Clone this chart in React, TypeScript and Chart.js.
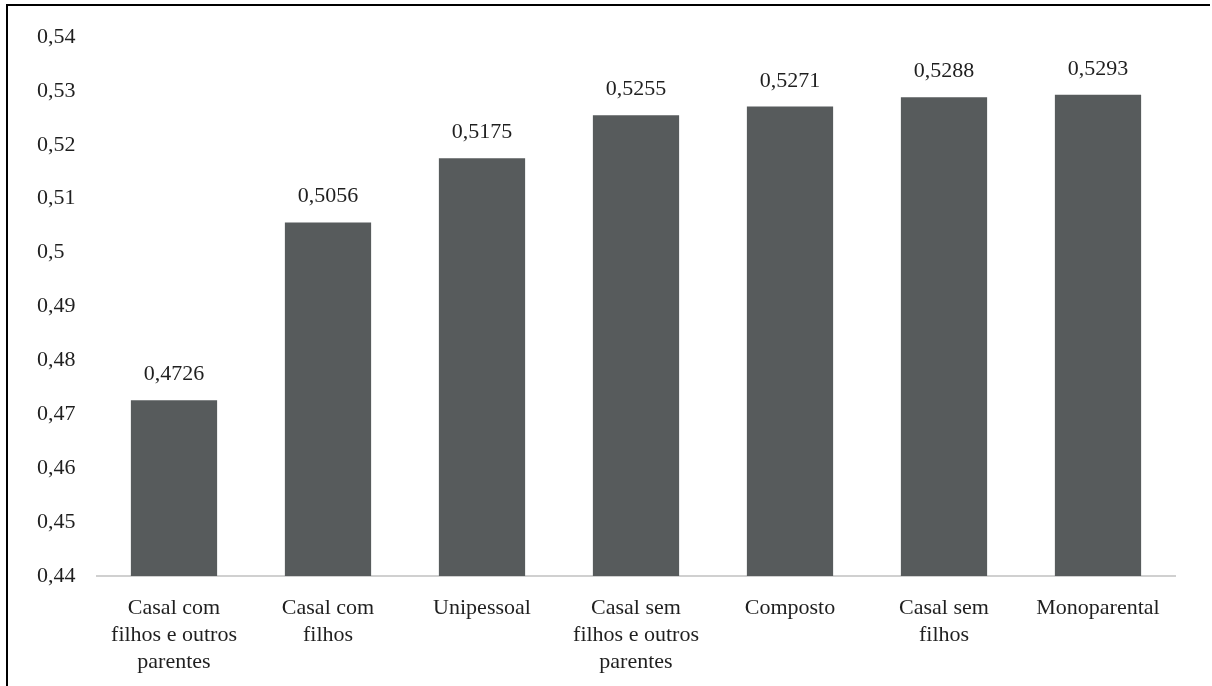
import React, { useEffect, useRef } from "react";
import { Chart, registerables } from "chart.js";

Chart.register(...registerables);

const categories: (string | string[])[] = [
  ["Casal com", "filhos e outros", "parentes"],
  ["Casal com", "filhos"],
  "Unipessoal",
  ["Casal sem", "filhos e outros", "parentes"],
  "Composto",
  ["Casal sem", "filhos"],
  "Monoparental",
];
const values: number[] = [0.4726, 0.5056, 0.5175, 0.5255, 0.5271, 0.5288, 0.5293];
const yMin = 0.44;
const yMax = 0.54;
const yStep = 0.01;

const FONT = "'Liberation Serif', 'Times New Roman', serif";
const TEXT = "#1f1f1f";

const fmtTick = (v: number) => {
  let s = v.toFixed(2);
  s = s.replace(/0+$/, "").replace(/\.$/, "");
  return s.replace(".", ",");
};

const dataLabels = {
  id: "dataLabels",
  afterDatasetsDraw(chart: any) {
    const ctx = chart.ctx;
    const meta = chart.getDatasetMeta(0);
    ctx.save();
    ctx.font = `22px ${FONT}`;
    ctx.fillStyle = TEXT;
    ctx.textAlign = "center";
    ctx.textBaseline = "alphabetic";
    meta.data.forEach((bar: any, i: number) => {
      const v = chart.data.datasets[0].data[i] as number;
      ctx.fillText(v.toFixed(4).replace(".", ","), bar.x, bar.y - 20);
    });
    ctx.restore();
  },
};

export default function App() {
  const ref = useRef<HTMLCanvasElement | null>(null);
  useEffect(() => {
    document.body.style.margin = "0";
    if (!ref.current) return;
    const chart = new Chart(ref.current, {
      type: "bar",
      data: {
        labels: categories,
        datasets: [
          {
            data: values,
            backgroundColor: "#575b5c",
            barPercentage: 0.56,
            categoryPercentage: 1,
          },
        ],
      },
      options: {
        animation: false,
        responsive: false,
        maintainAspectRatio: false,
        layout: { padding: { left: 29, right: 35, top: 31, bottom: 0 } },
        plugins: { legend: { display: false }, tooltip: { enabled: false } },
        scales: {
          x: {
            grid: { display: false },
            border: { display: true, color: "#d0d0d0", width: 2 },
            ticks: {
              color: TEXT,
              font: { family: FONT, size: 22, lineHeight: 1.23 },
              maxRotation: 0,
              autoSkip: false,
              padding: 11,
            },
            afterFit: (s: any) => {
              s.height = 110;
            },
          },
          y: {
            min: yMin,
            max: yMax,
            grid: { display: false },
            border: { display: false },
            ticks: {
              stepSize: yStep,
              color: TEXT,
              crossAlign: "far",
              font: { family: FONT, size: 22 },
              callback: (v: any) => fmtTick(Number(v)),
            },
            afterFit: (s: any) => {
              s.width = 60;
            },
          },
        },
      },
      plugins: [dataLabels],
    });
    return () => chart.destroy();
  }, []);
  return (
    <div
      style={{
        position: "absolute",
        left: 6,
        top: 4,
        width: 1204,
        height: 682,
        borderTop: "2px solid #000",
        borderLeft: "2px solid #000",
        boxSizing: "border-box",
      }}
    >
      <canvas ref={ref} width={1202} height={680} style={{ display: "block" }} />
    </div>
  );
}
